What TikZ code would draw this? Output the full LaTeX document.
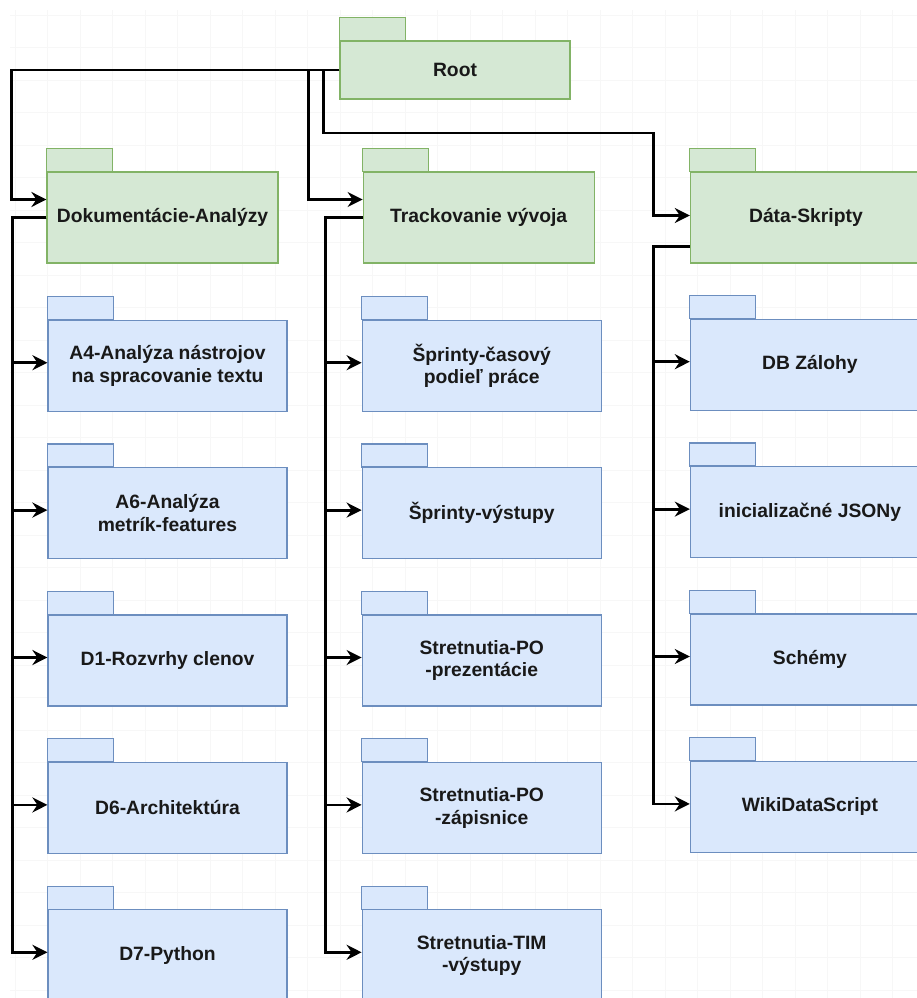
\documentclass[tikz,border=0pt]{standalone}
\usepackage{fontspec}
\setmainfont{Liberation Sans}
\usetikzlibrary{arrows.meta, positioning}

\definecolor{pkggreen}{HTML}{D5E8D4}
\definecolor{pkggreenline}{HTML}{82B366}
\definecolor{pkgblue}{HTML}{DAE8FC}
\definecolor{pkgblueline}{HTML}{6C8EBF}

\begin{document}
\begin{tikzpicture}[x=1pt, y=1pt,
node distance = 55.2pt and 20pt,
every node/.style = {line width=1.2pt, inner sep=2pt, align=center,
                     text=black!90,
                     font=\fontsize{19.3}{22.5}\selectfont\bfseries},
top/.style  = {draw=pkggreenline, fill=pkggreen,
               minimum width=231pt, minimum height=91pt},
sub/.style  = {draw=pkgblueline, fill=pkgblue,
               minimum width=239pt, minimum height=91pt},
greentab/.style = {draw=pkggreenline, fill=pkggreen, line width=1.2pt},
bluetab/.style  = {draw=pkgblueline, fill=pkgblue, line width=1.2pt},
link/.style = {line width=2.8pt, -{Stealth[length=15pt, width=15pt, inset=5pt]}},
                    ]
%---
\clip (0,0) rectangle (917,-998);
\fill[white] (0,0) rectangle (917,-998);
\draw[gray!6, line width=0.6pt, step=32.5, shift={(15,-15)}]
        (-5,-983) grid (902,5);

\node[top, minimum width=230pt, minimum height=58pt] (root) at (455,-70) {Root};
\node[top] (dok) at (162.5,-217.5) {Dokumentácie-Analýzy};
\node[top] (track) [right=84pt of dok] {Trackovanie vývoja};
\node[top] (data) [right=95pt of track] {Dáta-Skripty};

% Dokumentacie
\node[sub] (a4) [below right=56pt and 1pt of dok.south west] {A4-Analýza nástrojov\\ na spracovanie textu};
\node[sub] (a6) [below=of a4] {A6-Analýza\\ metrík-features};
\node[sub] (d1) [below=of a6] {D1-Rozvrhy clenov};
\node[sub] (d6) [below=of d1] {D6-Architektúra};
\node[sub] (d7) [below=of d6] {D7-Python};

% Trackovanie
\node[sub] (spr_cas) [below right=56pt and -1pt of track.south west] {Šprinty-časový\\ podieľ práce};
\node[sub] (spr_vys) [below=of spr_cas] {Šprinty-výstupy};
\node[sub] (po_prez) [below=of spr_vys] {Stretnutia-PO\\ -prezentácie};
\node[sub] (po_zap) [below=of po_prez] {Stretnutia-PO\\ -zápisnice};
\node[sub] (tim_vys) [below=of po_zap] {Stretnutia-TIM\\ -výstupy};

% Data
\node[sub] (db) [below right=55pt and 0pt of data.south west] {DB Zálohy};
\node[sub] (json) [below=of db] {inicializačné JSONy};
\node[sub] (schemy) [below=of json] {Schémy};
\node[sub] (wiki) [below=of schemy] {WikiDataScript};

% folder tabs
\foreach \n in {root, dok, track, data}
    \draw[greentab] (\n.north west) rectangle ++(66,23);
\foreach \n in {a4, a6, d1, d6, d7, spr_cas, spr_vys, po_prez, po_zap, tim_vys, db, json, schemy, wiki}
    \draw[bluetab] (\n.north west) rectangle ++(66,23);

% edges
\draw[link] (root.west) -| ([xshift=-35pt, yshift=18pt]dok.west) -- ([yshift=18pt]dok.west);
\draw[link] (root.west) -| ([xshift=-54pt, yshift=18pt]track.west) -- ([yshift=18pt]track.west);
\draw[link] (root.west) -| ([xshift=-16pt, yshift=-63pt]root.west)
                        -| ([xshift=-36pt, yshift=2pt]data.west) -- ([yshift=2pt]data.west);

\foreach \c in {a4, a6, d1, d6, d7}
    \draw[link] (dok.west) -| ([xshift=-35pt, yshift=3pt]\c.west) -- ([yshift=3pt]\c.west);
\foreach \c in {spr_cas, spr_vys, po_prez, po_zap, tim_vys}
    \draw[link] (track.west) -| ([xshift=-36pt, yshift=3pt]\c.west) -- ([yshift=3pt]\c.west);
\foreach \c in {db, json, schemy, wiki}
    \draw[link] ([yshift=-29pt]data.west) -| ([xshift=-36pt, yshift=3pt]\c.west) -- ([yshift=3pt]\c.west);
\end{tikzpicture}
\end{document}
